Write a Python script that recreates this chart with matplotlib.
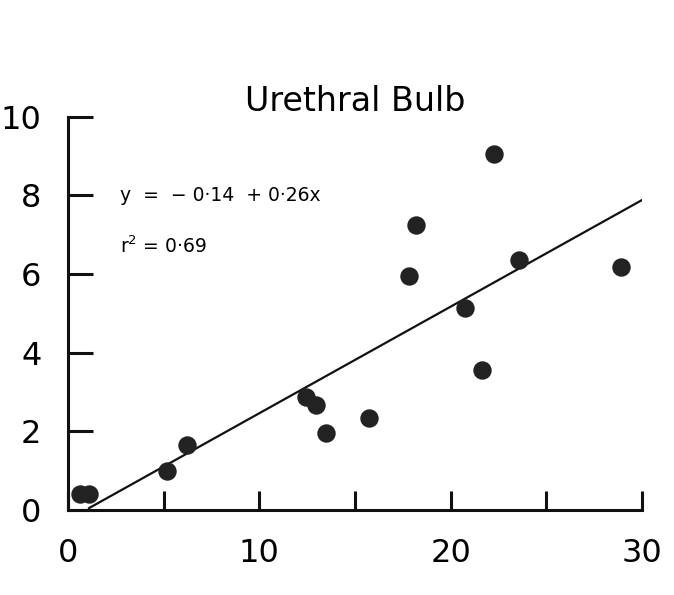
import matplotlib
matplotlib.use("Agg")
import matplotlib.pyplot as plt
import numpy as np

# Data
x_vals = [0.63, 1.1, 5.19, 6.23, 12.46, 12.98, 13.5, 15.72, 17.82, 18.17, 20.73, 21.65, 22.26, 23.57, 28.91]
y_vals = [0.41, 0.40, 1.00, 1.64, 2.88, 2.67, 1.96, 2.35, 5.95, 7.24, 5.13, 3.56, 9.05, 6.35, 6.18]
fit_intercept = -0.25
fit_slope = 0.271
fit_x = [1.1, 30.0]
x_ticks = [0, 10, 20, 30]
x_minor = [5, 15, 25]
y_ticks = [0, 2, 4, 6, 8, 10]
title = "Urethral Bulb"
eq_text = "y  =  \u2212 0\u00b714  + 0\u00b726x"
r2_text = "r$^{2}$ = 0\u00b769"

fig = plt.figure(figsize=(6.74, 5.95), dpi=100)
ax = fig.add_axes([0.1009, 0.1429, 0.9525 - 0.1009, 0.8039 - 0.1429])

ax.scatter(x_vals, y_vals, s=150, color="#222222", zorder=3, clip_on=False)
fx = np.array(fit_x)
ax.plot(fx, fit_intercept + fit_slope * fx, color="#111111", lw=1.6, zorder=2)

ax.set_xlim(0, 30)
ax.set_ylim(0, 10)
for s in ["top", "right"]:
    ax.spines[s].set_visible(False)
for s in ["left", "bottom"]:
    ax.spines[s].set_linewidth(2.2)
    ax.spines[s].set_color("#111111")

ax.set_xticks(x_ticks)
ax.set_xticks(x_minor, minor=True)
ax.set_yticks(y_ticks)
ax.tick_params(axis="x", which="both", direction="in", length=14, width=2.2, color="#111111",
               labelsize=23, pad=20)
ax.tick_params(axis="y", direction="in", length=18, width=2.2, color="#111111",
               labelsize=23, pad=19)
ax.set_xticklabels([str(t) for t in x_ticks])
ax.set_yticklabels([str(t) for t in y_ticks])

ax.text(0.5, 0.997, title, transform=ax.transAxes, ha="center", va="bottom", fontsize=24)
ax.text(2.7, 8.0, eq_text, ha="left", va="center", fontsize=13.5)
ax.text(2.7, 6.7, r2_text, ha="left", va="center", fontsize=13.5)

fig.savefig("out.png", dpi=100)
